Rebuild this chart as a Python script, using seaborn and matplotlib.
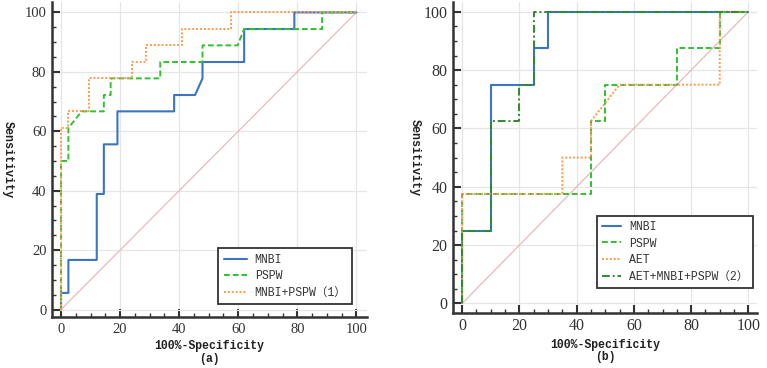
import matplotlib
matplotlib.use("Agg")
import matplotlib.pyplot as plt
import seaborn as sns
from matplotlib.ticker import MultipleLocator

# ROC curve vertices (100%-Specificity, Sensitivity)
# panel (a)
mnbi_a_x = [0, 0, 2.5, 2.5, 12.1, 12.1, 14.5, 14.5, 19.1, 19.1, 38.3, 38.3, 45.4, 47.9, 47.9, 62, 62, 79, 79, 100]
mnbi_a_y = [0, 5.6, 5.6, 16.7, 16.7, 38.9, 38.9, 55.6, 55.6, 66.7, 66.7, 72.2, 72.2, 77.8, 83.3, 83.3, 94.4, 94.4, 100, 100]
pspw_a_x = [0, 0, 2.5, 2.5, 7, 14.5, 14.5, 16.8, 16.8, 33.6, 33.6, 47.9, 47.9, 59.8, 62, 88.4, 88.4, 100]
pspw_a_y = [0, 50, 50, 61.1, 66.7, 66.7, 72.2, 72.2, 77.8, 77.8, 83.3, 83.3, 88.9, 88.9, 94.4, 94.4, 100, 100]
comb1_a_x = [0, 0, 2.5, 2.5, 9.6, 9.6, 24, 24, 28.7, 28.7, 40.9, 40.9, 57.5, 57.5, 100]
comb1_a_y = [0, 61.1, 61.1, 66.7, 66.7, 77.8, 77.8, 83.3, 83.3, 88.9, 88.9, 94.4, 94.4, 100, 100]

# panel (b)
mnbi_b_x = [0, 0, 10, 10, 25, 25, 30, 30, 100]
mnbi_b_y = [0, 25, 25, 75, 75, 87.5, 87.5, 100, 100]
pspw_b_x = [0, 0, 45, 45, 50, 50, 75, 75, 90, 90, 100]
pspw_b_y = [0, 37.5, 37.5, 62.5, 62.5, 75, 75, 87.5, 87.5, 100, 100]
aet_b_x = [0, 0, 35, 35, 45, 45, 55, 90, 90, 100]
aet_b_y = [0, 37.5, 37.5, 50, 50, 62.5, 75, 75, 100, 100]
comb2_b_x = [0, 0, 10, 10, 20, 20, 25, 25, 100]
comb2_b_y = [0, 25, 25, 62.5, 62.5, 75, 75, 100, 100]

diag = [0, 100]
ticks = [0, 20, 40, 60, 80, 100]

sns.set_style("ticks")
plt.rcParams['font.family'] = ['Liberation Serif', 'Noto Sans CJK SC', 'DejaVu Sans']
mono = ['Liberation Mono', 'Noto Sans CJK SC', 'DejaVu Sans']

c_blue = '#3b74c2'
c_green = '#33c033'
c_orange = '#ff9a4d'
c_dgreen = '#2e8b2e'
c_diag = '#e8b9b9'

fig = plt.figure(figsize=(7.67, 3.68), dpi=100)
ax1 = fig.add_axes([0.0678, 0.1386, 0.4107, 0.856])
ax2 = fig.add_axes([0.5906, 0.150, 0.3963, 0.845])


def style_axes(ax, xlim, ylim, fs, tag, ylab_x):
    ax.set_xlim(*xlim)
    ax.set_ylim(*ylim)
    ax.set_xticks(ticks)
    ax.set_yticks(ticks)
    ax.xaxis.set_minor_locator(MultipleLocator(5))
    ax.yaxis.set_minor_locator(MultipleLocator(5))
    ax.grid(True, which='major', color='#e6e6e6', linewidth=0.9)
    ax.set_axisbelow(True)
    for s in ['top', 'right']:
        ax.spines[s].set_visible(False)
    for s in ['left', 'bottom']:
        ax.spines[s].set_linewidth(1.8)
        ax.spines[s].set_color('#333333')
    ax.tick_params(which='major', direction='in', length=6, width=1.5, color='#333333',
                   labelsize=fs, labelcolor='#333333', pad=4)
    ax.tick_params(which='minor', direction='in', length=3, width=1.0, color='#333333')
    ax.set_xlabel('100%-Specificity\n(' + tag + ')', family=mono, fontsize=8.3,
                  fontweight='bold', color='#222222', linespacing=1.1, labelpad=3)
    ax.set_ylabel('Sensitivity', family=mono, fontsize=8.5, fontweight='bold',
                  color='#222222', rotation=270, va='center', ha='center')
    ax.yaxis.set_label_coords(ylab_x, 0.5)


def make_legend(ax, anchor, hl):
    leg = ax.legend(loc='lower right', bbox_to_anchor=anchor, prop={'family': mono, 'size': 8.3},
                    frameon=True, fancybox=False, framealpha=1, edgecolor='#333333',
                    handlelength=hl, handletextpad=0.7, labelspacing=0.4,
                    borderpad=0.45, borderaxespad=0)
    leg.get_frame().set_linewidth(1.3)
    for t in leg.get_texts():
        t.set_color('#333333')


# panel (a)
sns.lineplot(x=diag, y=diag, ax=ax1, color=c_diag, linewidth=0.9)
sns.lineplot(x=mnbi_a_x, y=mnbi_a_y, ax=ax1, sort=False, estimator=None,
             color=c_blue, linewidth=1.5, label='MNBI')
sns.lineplot(x=pspw_a_x, y=pspw_a_y, ax=ax1, sort=False, estimator=None,
             color=c_green, linewidth=1.4, linestyle=(0, (3, 1.5)), label='PSPW')
sns.lineplot(x=comb1_a_x, y=comb1_a_y, ax=ax1, sort=False, estimator=None,
             color=c_orange, linewidth=1.4, linestyle=(0, (1, 1)), label='MNBI+PSPW（1）')
style_axes(ax1, (-3.05, 103.6), (-2.5, 103.5), 10.5, 'a', -0.14)
make_legend(ax1, (0.951, 0.041), 2.0)

# panel (b)
sns.lineplot(x=diag, y=diag, ax=ax2, color=c_diag, linewidth=0.9)
sns.lineplot(x=mnbi_b_x, y=mnbi_b_y, ax=ax2, sort=False, estimator=None,
             color=c_blue, linewidth=1.5, label='MNBI')
sns.lineplot(x=pspw_b_x, y=pspw_b_y, ax=ax2, sort=False, estimator=None,
             color=c_green, linewidth=1.4, linestyle=(0, (3, 1.5)), label='PSPW')
sns.lineplot(x=aet_b_x, y=aet_b_y, ax=ax2, sort=False, estimator=None,
             color=c_orange, linewidth=1.4, linestyle=(0, (1, 1)), label='AET')
sns.lineplot(x=comb2_b_x, y=comb2_b_y, ax=ax2, sort=False, estimator=None,
             color=c_dgreen, linewidth=1.4, linestyle=(0, (4, 1.5, 1, 1.5)),
             label='AET+MNBI+PSPW（2）')
style_axes(ax2, (-3.2, 103.0), (-3.2, 103.4), 11.5, 'b', -0.125)
make_legend(ax2, (0.988, 0.080), 1.6)

fig.savefig('out.png', dpi=100)
